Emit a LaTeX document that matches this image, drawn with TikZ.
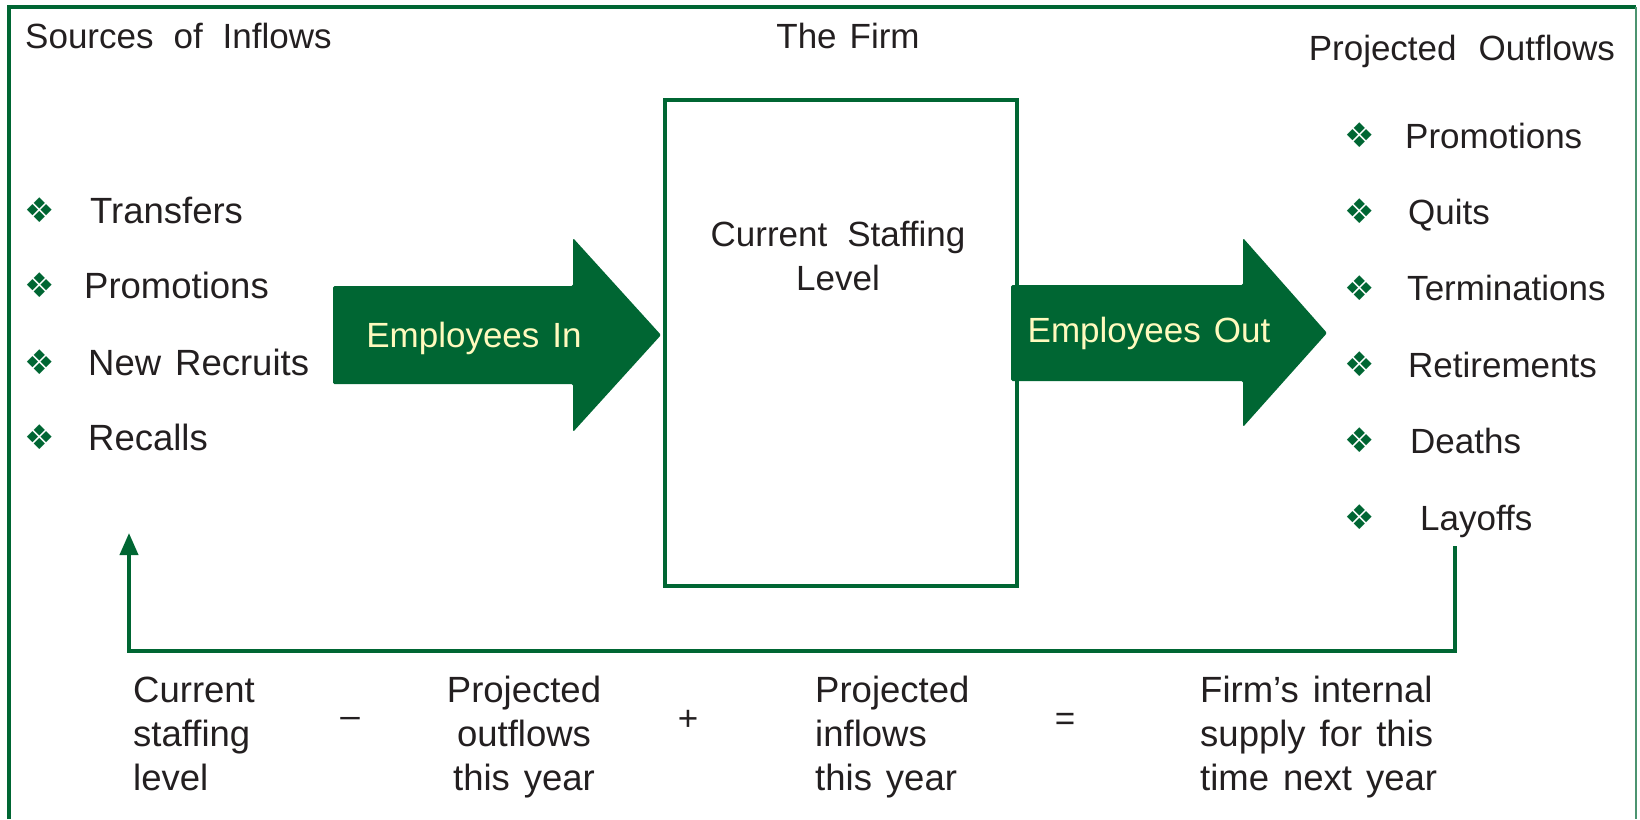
\documentclass[tikz,border=0pt]{standalone}
\usepackage{fontspec}
\setmainfont{Liberation Sans}
\newfontfamily\symfont{DejaVu Sans}
\usetikzlibrary{arrows.meta,positioning}
\definecolor{firmgreen}{RGB}{0,102,51}
\definecolor{ink}{RGB}{35,31,32}
\definecolor{pale}{RGB}{255,250,190}

\begin{document}
\begin{tikzpicture}[x=1pt,y=-1pt,inner sep=0pt]
  \tikzstyle{t}=[font={\fontsize{35}{44}\selectfont\spaceskip=13pt\relax},text=ink]
  \tikzstyle{tw}=[font={\fontsize{36.5}{44}\selectfont\spaceskip=14pt\relax},text=ink]
  \tikzstyle{b}=[font={\symfont\fontsize{34}{34}\selectfont},text=firmgreen]
  \tikzstyle{blk}=[fill=firmgreen,rounded corners=1.5pt]
  \useasboundingbox (0,0) rectangle (1640,819);
  % frame
  \draw[firmgreen,line width=4pt] (9,819) -- (9,7) -- (1636,7);
  \draw[firmgreen!70,line width=1.5pt] (1636,7) -- (1636,819);
  % headings
  \node[t,anchor=base west](src) at (25,48){\spaceskip=20pt Sources of Inflows};
  \node[t,anchor=base](firmtitle) at (848,48){The Firm};
  \node[t,anchor=base east](prj) at (1615,60){\spaceskip=22pt Projected Outflows};
  % the firm
  \node[draw=firmgreen,line width=4pt,minimum width=352pt,minimum height=486pt](firm) at (841,343){};
  \node[t,align=center,anchor=north](staff) at (838,221){\spaceskip=20pt Current Staffing\\Level};
  % block arrows
  \fill[blk] (333,286) -- (573,286) -- (573,238) -- (661,335) -- (573,432) -- (573,384) -- (333,384) -- cycle;
  \node[t,text=pale,anchor=base](ein) at (474,347){Employees In};
  \fill[blk] (1011,285) -- (1243,285) -- (1243,238) -- (1327,333) -- (1243,427) -- (1243,381) -- (1011,381) -- cycle;
  \node[t,text=pale,anchor=base](eout) at (1149,342){Employees Out};
  % inflows
  \foreach \n/\x/\y/\s in {1/90/223/Transfers,2/84/298/Promotions,3/88/375/New Recruits,4/88/450/Recalls}{
    \node[b](bi\n) at (39.5,\y-13){❖};
    \node[tw,anchor=base west](in\n) at (\x,\y){\s};
  }
  % outflows
  \foreach \n/\x/\s in {1/1405/Promotions,2/1408/Quits,3/1407/Terminations,4/1408/Retirements,5/1410/Deaths,6/1420/Layoffs}{
    \pgfmathsetmacro\y{71.6+76.4*\n}
    \node[b](bo\n) at (1359.5,\y-13){❖};
    \node[t,anchor=base west](out\n) at (\x,\y){\s};
  }
  % feedback loop
  \coordinate (dn) at (1455,546);
  \coordinate (turn) at (1455,651);
  \coordinate (back) at (129,533);
  \draw[firmgreen,line width=4pt,-{Triangle[width=18pt,length=22pt]}] (dn) -- (turn) -| (back);
  % supply equation
  \node[tw,align=left,anchor=north west](cur) at (133,677){Current\\staffing\\level};
  \node[t](minus) at (350,722){--};
  \node[tw,align=center,anchor=north](pout) at (524,676){Projected\\outflows\\this year};
  \node[t](plus) at (688,720){+};
  \node[tw,align=left,anchor=north west](pin) at (815,676){Projected\\inflows\\this year};
  \node[t](eq) at (1065,722){=};
  \node[tw,align=left,anchor=north west](supply) at (1200,676){Firm’s internal\\supply for this\\time next year};
\end{tikzpicture}
\end{document}
